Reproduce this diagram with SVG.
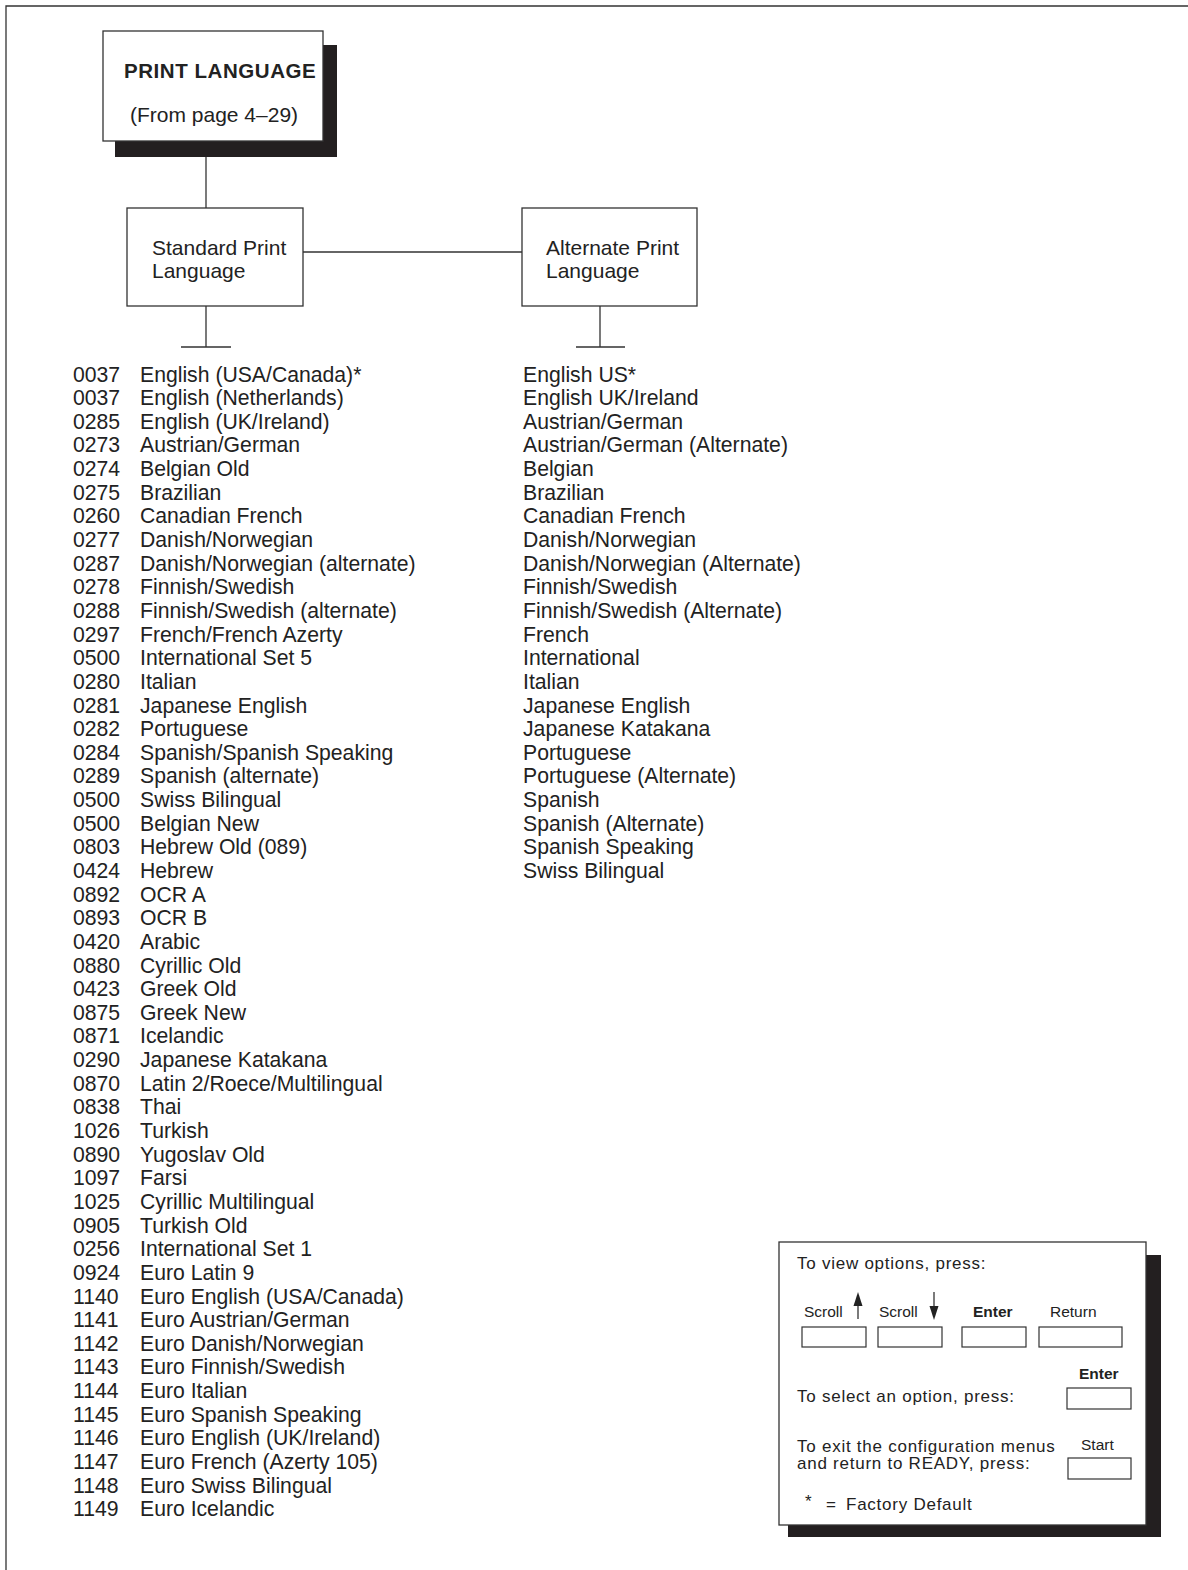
<svg xmlns="http://www.w3.org/2000/svg" width="1188" height="1570" viewBox="0 0 1188 1570">
<style>
text{font-family:"Liberation Sans",Arial,sans-serif;fill:#222}
.ln{stroke:#333;stroke-width:1.3;fill:none}
.box{fill:#fff;stroke:#333;stroke-width:1.3}
.sh{fill:#231f20}
.li{font-size:21.2px}
.bx{font-size:21px}
.lg{font-size:17px;letter-spacing:0.75px}
.sm{font-size:15.5px}
.b{font-weight:bold}
.btn{fill:#fff;stroke:#333;stroke-width:1.2}
</style>
<rect width="1188" height="1570" fill="#fff"/>
<path class="ln" d="M6,1570 V6 H1188" stroke-width="1.6"/>

<g id="connectors">
<path class="ln" d="M206,141 V208"/>
<path class="ln" d="M303,252 H522"/>
<path class="ln" d="M206,306 V347 M181,347 H231"/>
<path class="ln" d="M600,306 V347 M576,347 H625"/>
</g>

<g id="print-language">
<rect class="sh" x="115" y="45" width="222" height="112"/>
<rect class="box" x="103" y="31" width="220" height="110"/>
<text class="b" x="124" y="78" font-size="20.5" letter-spacing="0.55">PRINT LANGUAGE</text>
<text x="130" y="122" font-size="21">(From page 4–29)</text>
</g>

<g id="standard">
<rect class="box" x="127" y="208" width="176" height="98"/>
<text class="bx" x="152" y="255">Standard Print</text>
<text class="bx" x="152" y="278">Language</text>
</g>

<g id="alternate">
<rect class="box" x="522" y="208" width="175" height="98"/>
<text class="bx" x="546" y="255">Alternate Print</text>
<text class="bx" x="546" y="278">Language</text>
</g>

<g id="standard-list" class="li">
<text x="73" y="381.5">0037</text><text x="140" y="381.5">English (USA/Canada)*</text>
<text x="73" y="405.1">0037</text><text x="140" y="405.1">English (Netherlands)</text>
<text x="73" y="428.8">0285</text><text x="140" y="428.8">English (UK/Ireland)</text>
<text x="73" y="452.4">0273</text><text x="140" y="452.4">Austrian/German</text>
<text x="73" y="476.1">0274</text><text x="140" y="476.1">Belgian Old</text>
<text x="73" y="499.7">0275</text><text x="140" y="499.7">Brazilian</text>
<text x="73" y="523.3">0260</text><text x="140" y="523.3">Canadian French</text>
<text x="73" y="547.0">0277</text><text x="140" y="547.0">Danish/Norwegian</text>
<text x="73" y="570.6">0287</text><text x="140" y="570.6">Danish/Norwegian (alternate)</text>
<text x="73" y="594.3">0278</text><text x="140" y="594.3">Finnish/Swedish</text>
<text x="73" y="617.9">0288</text><text x="140" y="617.9">Finnish/Swedish (alternate)</text>
<text x="73" y="641.5">0297</text><text x="140" y="641.5">French/French Azerty</text>
<text x="73" y="665.2">0500</text><text x="140" y="665.2">International Set 5</text>
<text x="73" y="688.8">0280</text><text x="140" y="688.8">Italian</text>
<text x="73" y="712.5">0281</text><text x="140" y="712.5">Japanese English</text>
<text x="73" y="736.1">0282</text><text x="140" y="736.1">Portuguese</text>
<text x="73" y="759.7">0284</text><text x="140" y="759.7">Spanish/Spanish Speaking</text>
<text x="73" y="783.4">0289</text><text x="140" y="783.4">Spanish (alternate)</text>
<text x="73" y="807.0">0500</text><text x="140" y="807.0">Swiss Bilingual</text>
<text x="73" y="830.7">0500</text><text x="140" y="830.7">Belgian New</text>
<text x="73" y="854.3">0803</text><text x="140" y="854.3">Hebrew Old (089)</text>
<text x="73" y="877.9">0424</text><text x="140" y="877.9">Hebrew</text>
<text x="73" y="901.6">0892</text><text x="140" y="901.6">OCR A</text>
<text x="73" y="925.2">0893</text><text x="140" y="925.2">OCR B</text>
<text x="73" y="948.9">0420</text><text x="140" y="948.9">Arabic</text>
<text x="73" y="972.5">0880</text><text x="140" y="972.5">Cyrillic Old</text>
<text x="73" y="996.1">0423</text><text x="140" y="996.1">Greek Old</text>
<text x="73" y="1019.8">0875</text><text x="140" y="1019.8">Greek New</text>
<text x="73" y="1043.4">0871</text><text x="140" y="1043.4">Icelandic</text>
<text x="73" y="1067.1">0290</text><text x="140" y="1067.1">Japanese Katakana</text>
<text x="73" y="1090.7">0870</text><text x="140" y="1090.7">Latin 2/Roece/Multilingual</text>
<text x="73" y="1114.3">0838</text><text x="140" y="1114.3">Thai</text>
<text x="73" y="1138.0">1026</text><text x="140" y="1138.0">Turkish</text>
<text x="73" y="1161.6">0890</text><text x="140" y="1161.6">Yugoslav Old</text>
<text x="73" y="1185.3">1097</text><text x="140" y="1185.3">Farsi</text>
<text x="73" y="1208.9">1025</text><text x="140" y="1208.9">Cyrillic Multilingual</text>
<text x="73" y="1232.5">0905</text><text x="140" y="1232.5">Turkish Old</text>
<text x="73" y="1256.2">0256</text><text x="140" y="1256.2">International Set 1</text>
<text x="73" y="1279.8">0924</text><text x="140" y="1279.8">Euro Latin 9</text>
<text x="73" y="1303.5">1140</text><text x="140" y="1303.5">Euro English (USA/Canada)</text>
<text x="73" y="1327.1">1141</text><text x="140" y="1327.1">Euro Austrian/German</text>
<text x="73" y="1350.7">1142</text><text x="140" y="1350.7">Euro Danish/Norwegian</text>
<text x="73" y="1374.4">1143</text><text x="140" y="1374.4">Euro Finnish/Swedish</text>
<text x="73" y="1398.0">1144</text><text x="140" y="1398.0">Euro Italian</text>
<text x="73" y="1421.7">1145</text><text x="140" y="1421.7">Euro Spanish Speaking</text>
<text x="73" y="1445.3">1146</text><text x="140" y="1445.3">Euro English (UK/Ireland)</text>
<text x="73" y="1468.9">1147</text><text x="140" y="1468.9">Euro French (Azerty 105)</text>
<text x="73" y="1492.6">1148</text><text x="140" y="1492.6">Euro Swiss Bilingual</text>
<text x="73" y="1516.2">1149</text><text x="140" y="1516.2">Euro Icelandic</text>
</g>

<g id="alternate-list" class="li">
<text x="523" y="381.5">English US*</text>
<text x="523" y="405.1">English UK/Ireland</text>
<text x="523" y="428.8">Austrian/German</text>
<text x="523" y="452.4">Austrian/German (Alternate)</text>
<text x="523" y="476.1">Belgian</text>
<text x="523" y="499.7">Brazilian</text>
<text x="523" y="523.3">Canadian French</text>
<text x="523" y="547.0">Danish/Norwegian</text>
<text x="523" y="570.6">Danish/Norwegian (Alternate)</text>
<text x="523" y="594.3">Finnish/Swedish</text>
<text x="523" y="617.9">Finnish/Swedish (Alternate)</text>
<text x="523" y="641.5">French</text>
<text x="523" y="665.2">International</text>
<text x="523" y="688.8">Italian</text>
<text x="523" y="712.5">Japanese English</text>
<text x="523" y="736.1">Japanese Katakana</text>
<text x="523" y="759.7">Portuguese</text>
<text x="523" y="783.4">Portuguese (Alternate)</text>
<text x="523" y="807.0">Spanish</text>
<text x="523" y="830.7">Spanish (Alternate)</text>
<text x="523" y="854.3">Spanish Speaking</text>
<text x="523" y="877.9">Swiss Bilingual</text>
</g>

<g id="legend">
<rect class="sh" x="788" y="1255" width="373" height="282"/>
<rect class="box" x="779" y="1242" width="367" height="283"/>
<text class="lg" x="797" y="1269">To view options, press:</text>
<text class="sm" x="804" y="1317">Scroll</text>
<path class="ln" d="M858,1319 V1302"/>
<path d="M858,1292 L853.5,1306 H862.5 Z" fill="#222"/>
<text class="sm" x="879" y="1317">Scroll</text>
<path class="ln" d="M934,1292 V1309"/>
<path d="M934,1320 L929.5,1306 H938.5 Z" fill="#222"/>
<text class="sm b" x="973" y="1317">Enter</text>
<text class="sm" x="1050" y="1317">Return</text>
<rect class="btn" x="802" y="1327" width="64" height="20"/>
<rect class="btn" x="878" y="1327" width="64" height="20"/>
<rect class="btn" x="962" y="1327" width="64" height="20"/>
<rect class="btn" x="1039" y="1327" width="83" height="20"/>
<text class="sm b" x="1079" y="1379">Enter</text>
<rect class="btn" x="1067" y="1388" width="64" height="21"/>
<text class="lg" x="797" y="1402">To select an option, press:</text>
<text class="sm" x="1081" y="1450">Start</text>
<text class="lg" x="797" y="1452">To exit the configuration menus</text>
<text class="lg" x="797" y="1469">and return to READY, press:</text>
<rect class="btn" x="1068" y="1458" width="63" height="21"/>
<text class="lg" x="805" y="1507">*</text>
<text class="lg" x="826" y="1510">=</text>
<text class="lg" x="846" y="1510">Factory Default</text>
</g>
</svg>
